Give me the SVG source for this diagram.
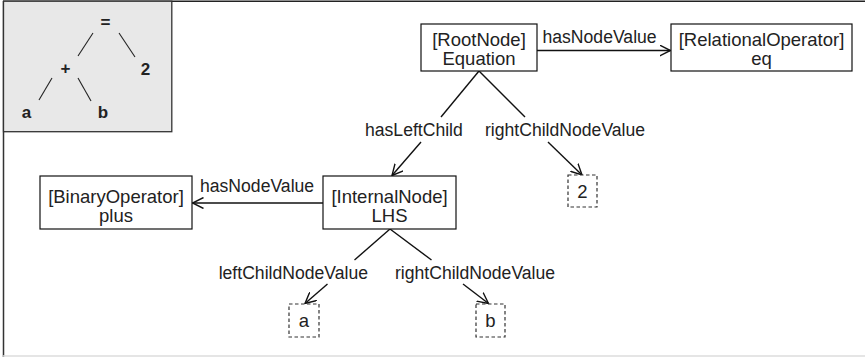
<svg xmlns="http://www.w3.org/2000/svg" width="865" height="357" viewBox="0 0 865 357">
<style>
.box{fill:#fff;stroke:#111;stroke-width:1.2}
.dbox{fill:#fff;stroke:#333;stroke-width:1.2;stroke-dasharray:3.5,2.5}
.nt{font-family:"Liberation Sans",Arial,sans-serif;font-size:18.5px;fill:#222;text-anchor:middle}
.lb{font-family:"Liberation Sans",Arial,sans-serif;font-size:17.6px;fill:#222}
.edge{stroke:#111;stroke-width:1.4;fill:none}
.it{font-family:"Liberation Sans",Arial,sans-serif;font-size:17px;font-weight:bold;fill:#222;text-anchor:middle}
.il{stroke:#222;stroke-width:1.1}
</style>
<defs>
<marker id="ar" viewBox="0 0 12 12" refX="11" refY="6" markerWidth="12" markerHeight="12" markerUnits="userSpaceOnUse" orient="auto">
<path d="M0,0.5 L11,6 L0,11.5" fill="none" stroke="#111" stroke-width="1.4"/>
</marker>
</defs>
<rect x="0" y="0" width="865" height="357" fill="#fff"/>
<line x1="3.5" y1="1" x2="3.5" y2="357" stroke="#333" stroke-width="1.5"/>
<line x1="3" y1="1.2" x2="865" y2="1.2" stroke="#222" stroke-width="1.4"/>
<line x1="3" y1="356" x2="865" y2="356" stroke="#ddd" stroke-width="1.5"/>
<g id="inset">
<rect x="3.5" y="1.2" width="168.3" height="130.5" fill="#e8e8e8" stroke="#333" stroke-width="1.3"/>
<text class="it" x="105.5" y="28">=</text>
<text class="it" x="65.5" y="74">+</text>
<text class="it" x="145.5" y="75">2</text>
<text class="it" x="26.5" y="118">a</text>
<text class="it" x="103" y="118">b</text>
<line class="il" x1="93" y1="33" x2="78" y2="56"/>
<line class="il" x1="119" y1="33" x2="135" y2="57"/>
<line class="il" x1="52" y1="78" x2="39" y2="100"/>
<line class="il" x1="78" y1="78" x2="91" y2="101"/>
</g>
<g id="connectors">
<line class="edge" x1="537" y1="50.5" x2="670.5" y2="50.5" marker-end="url(#ar)"/>
<line class="edge" x1="323" y1="203" x2="192.5" y2="203" marker-end="url(#ar)"/>
<polyline class="edge" points="479,71 441,117"/>
<line class="edge" x1="421" y1="142" x2="392" y2="175.5" marker-end="url(#ar)"/>
<polyline class="edge" points="479,71 525,117"/>
<line class="edge" x1="548" y1="142" x2="582" y2="175" marker-end="url(#ar)"/>
<polyline class="edge" points="390,229 354.5,260"/>
<line class="edge" x1="327.5" y1="284" x2="305" y2="303.5" marker-end="url(#ar)"/>
<polyline class="edge" points="390,229 431.5,260"/>
<line class="edge" x1="463" y1="284" x2="488.5" y2="303.5" marker-end="url(#ar)"/>
<text class="lb" x="542.5" y="42.5">hasNodeValue</text>
<text class="lb" x="200" y="192">hasNodeValue</text>
<text class="lb" x="365" y="135.5">hasLeftChild</text>
<text class="lb" x="485" y="135.5">rightChildNodeValue</text>
<text class="lb" x="368" y="278.5" text-anchor="end">leftChildNodeValue</text>
<text class="lb" x="395" y="278.5">rightChildNodeValue</text>
</g>
<g id="root">
<rect class="box" x="421" y="24" width="116" height="47"/>
<text class="nt" x="479" y="46">[RootNode]</text>
<text class="nt" x="479" y="65">Equation</text>
</g>
<g id="relop">
<rect class="box" x="671" y="24" width="181" height="47"/>
<text class="nt" x="761.5" y="46">[RelationalOperator]</text>
<text class="nt" x="761.5" y="65">eq</text>
</g>
<g id="binop">
<rect class="box" x="40" y="176" width="152" height="53"/>
<text class="nt" x="116" y="202.5">[BinaryOperator]</text>
<text class="nt" x="116" y="221.5">plus</text>
</g>
<g id="internal">
<rect class="box" x="323" y="176" width="133" height="53"/>
<text class="nt" x="389.5" y="202.5">[InternalNode]</text>
<text class="nt" x="389.5" y="221.5">LHS</text>
</g>
<g id="v2">
<rect class="dbox" x="568" y="175" width="29" height="32"/>
<text class="nt" x="582.5" y="197.5">2</text>
</g>
<g id="va">
<rect class="dbox" x="289" y="304" width="30" height="33"/>
<text class="nt" x="304" y="327">a</text>
</g>
<g id="vb">
<rect class="dbox" x="476" y="304" width="29" height="33"/>
<text class="nt" x="490.5" y="327">b</text>
</g>
</svg>
